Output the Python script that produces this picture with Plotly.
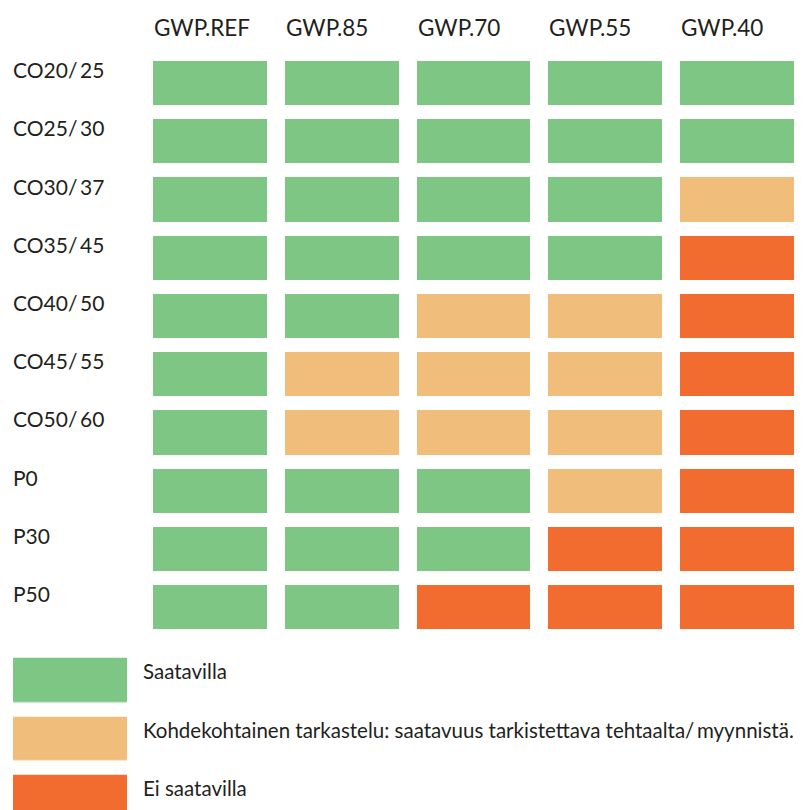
import plotly.graph_objects as go

columns = ["GWP.REF", "GWP.85", "GWP.70", "GWP.55", "GWP.40"]
rows = ["CO20/25", "CO25/30", "CO30/37", "CO35/45", "CO40/50",
        "CO45/55", "CO50/60", "P0", "P30", "P50"]
# 0 = Saatavilla, 1 = Kohdekohtainen tarkastelu, 2 = Ei saatavilla
status = [
    [0, 0, 0, 0, 0],
    [0, 0, 0, 0, 0],
    [0, 0, 0, 0, 1],
    [0, 0, 0, 0, 2],
    [0, 0, 1, 1, 2],
    [0, 1, 1, 1, 2],
    [0, 1, 1, 1, 2],
    [0, 0, 0, 1, 2],
    [0, 0, 0, 2, 2],
    [0, 0, 2, 2, 2],
]
legend_labels = [
    "Saatavilla",
    "Kohdekohtainen tarkastelu: saatavuus tarkistettava tehtaalta/\u2009myynnistä.",
    "Ei saatavilla",
]
legend_values = [[0], [1], [2]]
colors = ["#7DC683", "#F0BD7A", "#F26C30"]

OFF = 8  # page body margin
W, H = 812 - OFF, 810 - OFF
FONT = "Lato"
TXT = "#231f20"


def px(v):
    return (v - OFF) / W


def py(v):
    return 1 - (v - OFF) / H


cscale = [[0, colors[0]], [0.25, colors[0]], [0.25, colors[1]],
          [0.75, colors[1]], [0.75, colors[2]], [1, colors[2]]]

fig = go.Figure()
fig.add_trace(go.Heatmap(
    z=status, x=list(range(len(columns))), y=list(range(len(rows))),
    colorscale=cscale, zmin=0, zmax=2, showscale=False,
    xgap=18, ygap=14, hoverinfo="skip", xaxis="x", yaxis="y"))
fig.add_trace(go.Heatmap(
    z=legend_values, x=[0], y=list(range(len(legend_labels))),
    colorscale=cscale, zmin=0, zmax=2, showscale=False,
    xgap=0, ygap=14.5, hoverinfo="skip", xaxis="x2", yaxis="y2"))

# grid geometry (page pixels)
gx0, gx1 = 144, 803
gy0, gy1 = 54, 636.2
lx0, lx1 = 13, 127
ly0 = 650.75
lstep = 58.5

annotations = []
for i, c in enumerate(columns):
    annotations.append(dict(
        text=c, x=i, xref="x", xshift=-58, xanchor="left",
        y=py(27.5), yref="paper", yanchor="middle", showarrow=False,
        font=dict(family=FONT, size=22.5, color=TXT)))
for j, r in enumerate(rows):
    annotations.append(dict(
        text=r.replace("/", "/\u2009"), x=px(11), xref="paper", xanchor="left",
        y=j, yref="y", yshift=13.5, yanchor="middle", showarrow=False,
        font=dict(family=FONT, size=21, color=TXT)))
for k, lab in enumerate(legend_labels):
    annotations.append(dict(
        text=lab, x=px(141), xref="paper", xanchor="left",
        y=k, yref="y2", yshift=9, yanchor="middle", showarrow=False,
        font=dict(family=FONT, size=20.5, color=TXT)))

ax_common = dict(showgrid=False, zeroline=False, showticklabels=False,
                 ticks="", showline=False, fixedrange=True)
n_vis = (810 - ly0) / lstep
fig.update_layout(
    width=W, height=H, margin=dict(l=0, r=0, t=0, b=0),
    paper_bgcolor="white", plot_bgcolor="white",
    xaxis=dict(domain=[px(gx0), px(gx1)], range=[-0.5, 4.5], **ax_common),
    yaxis=dict(domain=[py(gy1), py(gy0)], range=[9.5, -0.5], **ax_common),
    xaxis2=dict(domain=[px(lx0), px(lx1)], range=[-0.5, 0.5], anchor="y2", **ax_common),
    yaxis2=dict(domain=[0, py(ly0)], range=[-0.5 + n_vis, -0.5], anchor="x2", **ax_common),
    annotations=annotations,
    showlegend=False,
)
fig.write_html("out.html")
